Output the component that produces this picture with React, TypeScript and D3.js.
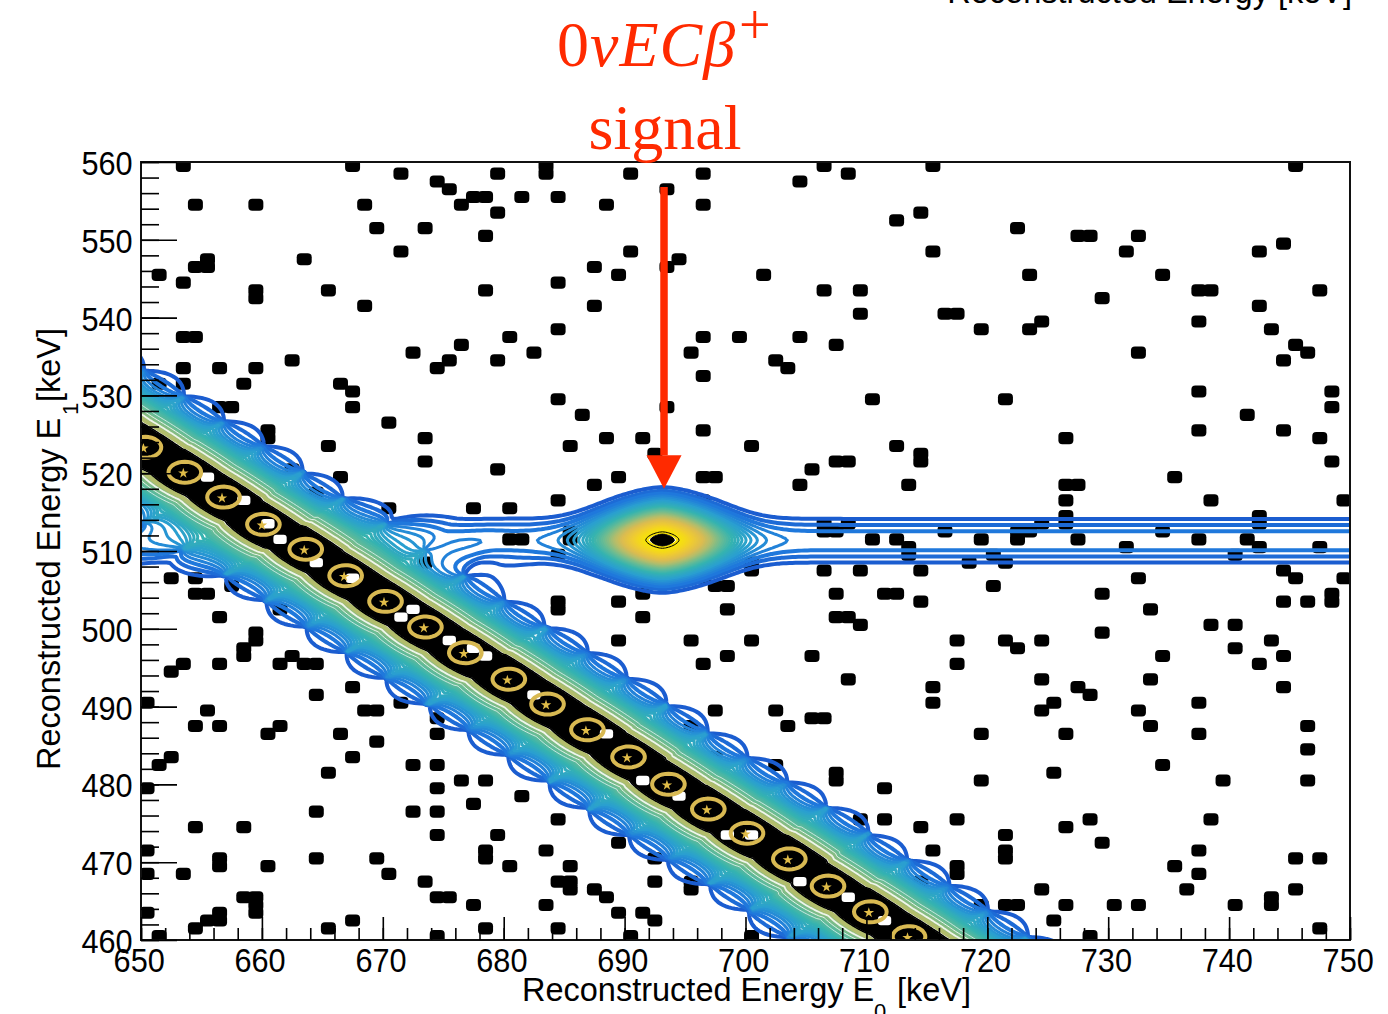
import * as d3 from "d3";
import {useEffect, useRef} from "react";

// axis ranges (keV)
const e0Range = [650, 750];
const e1Range = [460, 560];
const e0Major = [650, 660, 670, 680, 690, 700, 710, 720, 730, 740, 750];
const e1Major = [460, 470, 480, 490, 500, 510, 520, 530, 540, 550, 560];
const e0Minor = d3.range(650, 751, 2);
const e1Minor = d3.range(460, 561, 2);

// lower edges [E0, E1] of the 1 keV bins holding background counts
const bgBins: [number, number][] = [
  [653,559],[667,559],[683,559],[706,559],[715,559],[745,559],
  [671,558],[679,558],[683,558],[690,558],[696,558],[708,558],
  [674,557],[704,557],[675,556],[693,556],[677,555],[678,555],[681,555],[684,555],
  [654,554],[659,554],[668,554],[676,554],[688,554],[696,554],
  [679,553],[714,553],[712,552],[669,551],[673,551],[722,551],
  [678,550],[727,550],[728,550],[732,550],[744,549],
  [671,548],[690,548],[715,548],[731,548],[742,548],
  [655,547],[663,547],[694,547],[654,546],[655,546],[687,546],[693,546],
  [651,545],[689,545],[701,545],[723,545],[734,545],
  [653,544],[684,544],[659,543],[665,543],[678,543],[706,543],[709,543],[737,543],[738,543],[747,543],
  [659,542],[729,542],[668,541],[687,541],[742,541],[709,540],[716,540],[717,540],
  [724,539],[737,539],[684,538],[719,538],[723,538],[743,538],
  [653,537],[654,537],[680,537],[696,537],[699,537],[704,537],
  [676,536],[707,536],[745,536],[672,535],[682,535],[695,535],[732,535],[746,535],
  [662,534],[675,534],[679,534],[702,534],[744,534],
  [653,533],[656,533],[659,533],[674,533],[703,533],[696,532],
  [651,531],[653,531],[658,531],[666,531],[667,530],[737,530],[748,530],
  [684,529],[710,529],[721,529],[656,528],[657,528],[667,528],[693,528],[748,528],
  [686,527],[741,527],[670,526],[660,525],[696,525],[737,525],[744,525],
  [660,524],[673,524],[688,524],[691,524],[726,524],[747,524],
  [665,523],[685,523],[700,523],[712,523],[692,522],[714,522],
  [673,521],[707,521],[708,521],[714,521],[748,521],
  [662,520],[679,520],[705,520],[666,519],[689,519],[696,519],[697,519],[735,519],
  [687,518],[704,518],[713,518],[726,518],[727,518],
  [664,517],[684,516],[696,516],[726,516],[738,516],[749,516],
  [670,515],[677,515],[680,515],[726,514],[742,514],
  [706,513],[708,513],[724,513],[726,513],[742,513],
  [685,512],[706,512],[707,512],[716,512],[722,512],[723,512],[734,512],
  [680,511],[681,511],[685,511],[710,511],[712,511],[719,511],[722,511],[727,511],[737,511],[741,511],
  [713,510],[731,510],[742,510],[747,510],[684,509],[713,509],[720,509],[740,509],
  [673,508],[700,508],[718,508],[721,508],
  [700,507],[706,507],[709,507],[714,507],[744,507],
  [652,506],[654,506],[696,506],[732,506],[745,506],[749,506],
  [657,505],[697,505],[698,505],[720,505],
  [654,504],[655,504],[691,504],[707,504],[711,504],[712,504],[729,504],[748,504],
  [684,503],[689,503],[714,503],[744,503],[746,503],[748,503],
  [661,502],[684,502],[698,502],[733,502],[656,501],[691,501],[707,501],[708,501],
  [709,500],[738,500],[740,500],[659,499],[729,499],
  [659,498],[689,498],[695,498],[700,498],[717,498],[721,498],[724,498],[743,498],
  [658,497],[722,497],[740,497],[658,496],[662,496],[698,496],[705,496],[734,496],[744,496],
  [653,495],[656,495],[661,495],[663,495],[664,495],[696,495],[717,495],[742,495],
  [652,494],[708,493],[724,493],[733,493],
  [667,492],[715,492],[727,492],[744,492],[664,491],[728,491],
  [650,490],[671,490],[715,490],[725,490],[737,490],
  [655,489],[668,489],[669,489],[697,489],[702,489],[724,489],[732,489],
  [674,488],[705,488],[706,488],
  [654,487],[656,487],[661,487],[695,487],[703,487],[733,487],[746,487],
  [660,486],[666,486],[674,486],[719,486],[726,486],[737,486],
  [669,485],[746,484],[652,483],[667,483],[697,483],
  [651,482],[665,481],[672,482],[674,482],[702,482],[734,482],
  [707,481],[725,481],[676,480],[678,480],[707,480],[719,480],[739,480],[746,480],
  [650,479],[674,479],[711,479],[681,478],[677,477],
  [664,476],[672,476],[674,476],[684,475],[709,475],[711,475],[717,475],[728,475],[738,475],
  [654,474],[658,474],[714,474],[726,474],[674,473],[679,473],[721,473],
  [689,472],[729,472],[650,471],[678,471],[683,471],[715,471],[721,471],[737,471],
  [656,470],[664,470],[669,470],[678,470],[692,470],[721,470],[745,470],[747,470],
  [656,469],[660,469],[680,469],[685,469],[717,469],[735,469],
  [650,468],[653,468],[670,468],[717,468],[737,468],
  [673,467],[684,467],[685,467],[692,467],[695,467],[714,467],
  [685,466],[687,466],[695,466],[724,466],[736,466],[745,466],
  [658,465],[659,465],[674,465],[675,465],[688,465],[743,465],
  [659,464],[677,464],[683,464],[719,464],[721,464],[722,464],[726,464],[730,464],[732,464],[740,464],[743,464],
  [650,463],[656,463],[659,463],[689,463],[691,463],
  [655,462],[656,462],[667,462],[692,462],[725,462],
  [654,461],[665,461],[678,461],[684,461],[747,461],
  [651,460],[674,460],[690,460],[700,460],[728,460],
];

// empty bins showing as white holes inside the black core of the ridge
const emptyBins: [number, number][] = [
  [655,519],[658,516],[660,513],[661,511],[664,508],[667,506],[671,501],[672,502],[675,498],[677,497],
  [678,496],[682,491],[688,486],[691,480],[694,478],[698,473],[700,473],[704,467],[708,465],[711,462],
];

// centres of the Compton ridge peaks, read from the gold rings
const peakE0 = [640.3,643.6,646.9,650.2,653.5,656.7,660.0,663.5,666.8,670.1,673.4,676.7,680.3,683.5,686.8,690.2,693.5,696.8,700.0,703.5,706.7,710.2,713.4,716.7,720.0,723.3,726.6];
const peakE1 = [533.1,529.8,526.5,523.2,520.0,516.8,513.3,510.1,506.7,503.4,500.1,496.8,493.4,490.2,486.9,483.4,479.9,476.7,473.6,470.3,466.8,463.5,460.3,457.0,453.7,450.4,447.1];

// signal peak and the 511 keV annihilation line
const signalE0 = 693.0;
const signalE1 = 511.3;
const lineE1 = 511.2;

// arrow of the annotation (keV)
const arrowE0 = 693.26;
const arrowTop = 556.8;
const arrowBase = 522.3;
const arrowTip = 518.0;

// contour heights
const lineLevels = d3.range(2, 24);
const signalLevels = d3.range(24, 41);
const colorStops = [2, 4, 8, 13, 18, 23.5, 28, 34, 41];
const colorValues = ["#1b5dd0", "#1f78dc", "#2a9fd0", "#35b3b0", "#6cbc92", "#b2bd6c", "#dcbc50", "#f0cc30", "#f9e800"];

const RED = "#ff2a00";
const FONT = "'Liberation Sans', Arial, sans-serif";
const SERIF = "'Liberation Serif', 'Times New Roman', serif";

export default function App() {
    const ref = useRef<SVGSVGElement>(null);

    useEffect(() => {
        const svg = d3.select(ref.current);
        svg.selectAll("*").remove();

        const x = d3.scaleLinear().domain(e0Range).range([141, 1350]);
        const y = d3.scaleLinear().domain(e1Range).range([940, 162]);

        // grid for the contours, a bit wider than the frame so the closing edges get clipped
        const step = 0.25;
        const gridX0 = 644, gridY0 = 454;
        const nx = 448, ny = 448;
        const size = nx * ny;
        const full = new Float64Array(size);
        const signal = new Float64Array(size);
        const bandEdge = new Float64Array(size);
        const ringDist = new Float64Array(size);

        const peakH = 30, width2 = 21.8, cuspW = 6.93, halfGap = 2.335, bendZone = 2.5, spread = 1.55;
        for (let j = 0; j < ny; j++) {
            const e1 = gridY0 + j * step;
            for (let i = 0; i < nx; i++) {
                const e0 = gridX0 + i * step;

                // nearest ridge peak: w across the ridge, u along it
                let best = 0, bestU = Infinity;
                for (let k = 0; k < peakE0.length; k++) {
                    const u = Math.abs(e0 - peakE0[k] - (e1 - peakE1[k])) / Math.SQRT2;
                    if (u < bestU) { bestU = u; best = k; }
                }
                const dx0 = e0 - peakE0[best], dy0 = e1 - peakE1[best];
                const w = (dx0 + dy0) / Math.SQRT2;
                const absW = Math.abs(w);
                const q = Math.max(0, 1 - (bestU / halfGap) ** 2);

                // levels near the edge bow out between peaks and pinch together at the cusps
                let wEff;
                if (absW >= cuspW) {
                    wEff = cuspW + (absW - cuspW) / Math.max(q * spread, 0.03);
                } else {
                    const depth = Math.min(1, (cuspW - absW) / bendZone);
                    const gain = spread - (spread - 1) * depth;
                    wEff = cuspW - (cuspW - absW) / Math.max((q + (1 - q) * depth) * gain, 0.03);
                }
                const diag = peakH * Math.exp(-wEff * wEff / width2);

                const dx = e0 - signalE0, dy = e1 - signalE1, dl = e1 - lineE1;
                const rho = Math.pow(Math.pow(Math.abs(dx) / 4.69, 1.6) + Math.pow(Math.abs(dy) / 3.95, 1.6), 1.25);
                const blob = 38 * Math.exp(-rho);
                const flat = 4.7 * Math.exp(-dl * dl / 9.2);
                const fade = Math.max(0, 1 - diag / peakH);

                const idx = i + j * nx;
                signal[idx] = blob + flat;
                full[idx] = diag + flat * fade * fade + blob;
                bandEdge[idx] = -(absW - (w < 0 ? 0.25 : 0.05) * q);
                ringDist[idx] = -Math.hypot(dx0, dy0);
            }
        }

        const toPx = d3.geoTransform({
            point(px, py) {
                this.stream.point(x(gridX0 + px * step), y(gridY0 + py * step));
            },
        });
        const path = d3.geoPath(toPx);
        const contours = d3.contours().size([nx, ny]).thresholds([]);
        const iso = (field: Float64Array, level: number) => path(contours.contour(field as any, level));
        const color = d3.scaleLinear<string>().domain(colorStops).range(colorValues);

        svg.append("clipPath").attr("id", "frame").append("rect")
            .attr("x", x(650)).attr("y", y(560)).attr("width", x(750) - x(650)).attr("height", y(460) - y(560));

        const plot = svg.append("g").attr("clip-path", "url(#frame)");

        // background counts
        plot.append("g").selectAll("rect").data(bgBins).join("rect")
            .attr("x", d => x(d[0] - 0.12))
            .attr("y", d => y(d[1] + 1.28))
            .attr("width", x(651.24) - x(650))
            .attr("height", y(460) - y(461.56))
            .attr("rx", 4)
            .attr("fill", "#000");

        // colour contours, lowest first
        lineLevels.forEach(level => {
            plot.append("path")
                .attr("d", iso(full, level))
                .attr("fill", "none")
                .attr("stroke", color(level))
                .attr("stroke-width", level < 5 ? 4 : 3);
        });
        signalLevels.forEach(level => {
            plot.append("path")
                .attr("d", iso(signal, level))
                .attr("fill", "none")
                .attr("stroke", color(level))
                .attr("stroke-width", 3);
        });

        // pale hairlines, black core and olive edge of the ridge
        [[-3.6, 0.8], [-3.2, 1], [-2.78, 1.8]].forEach(([level, w]) => {
            plot.append("path").attr("d", iso(bandEdge, level))
                .attr("fill", "none").attr("stroke", "#fff").attr("stroke-width", w).attr("opacity", 0.85);
        });
        plot.append("path").attr("d", iso(bandEdge, -2.0)).attr("fill", "#000");
        plot.append("g").selectAll("rect").data(emptyBins).join("rect")
            .attr("x", d => x(d[0] - 0.05))
            .attr("y", d => y(d[1] + 1.1))
            .attr("width", x(651.1) - x(650))
            .attr("height", y(460) - y(461.2))
            .attr("rx", 3)
            .attr("fill", "#fff");
        plot.append("path").attr("d", iso(bandEdge, -2.05))
            .attr("fill", "none").attr("stroke", "#000").attr("stroke-width", 1.6);
        plot.append("path").attr("d", iso(bandEdge, -2.38))
            .attr("fill", "none").attr("stroke", "#b2bd6c").attr("stroke-width", 3.6);

        // gold rings around the peaks
        plot.append("path").attr("d", iso(ringDist, -1.35))
            .attr("fill", "none").attr("stroke", "#d8b952").attr("stroke-width", 4);
        plot.append("g").selectAll("path").data(peakE0).join("path")
            .attr("d", d3.symbol(d3.symbolStar, 34))
            .attr("transform", (d, i) => `translate(${x(d)},${y(peakE1[i])})`)
            .attr("fill", "#e0bc48");

        // signal core
        plot.append("path").attr("d", iso(signal, 41)).attr("fill", "#000").attr("stroke", "#000");
        plot.append("path").attr("d", iso(signal, 39.5))
            .attr("fill", "none").attr("stroke", "#000").attr("stroke-width", 1);

        // frame and axes
        svg.append("rect")
            .attr("x", x(650)).attr("y", y(560)).attr("width", x(750) - x(650)).attr("height", y(460) - y(560))
            .attr("fill", "none").attr("stroke", "#111").attr("stroke-width", 2);

        const styleAxis = (g: any) => {
            g.select(".domain").remove();
            g.selectAll("line").attr("stroke", "#000").attr("stroke-width", 1.6);
        };
        svg.append("g").attr("transform", `translate(0,${y(460)})`)
            .call(d3.axisBottom(x).tickValues(e0Minor).tickSize(-12).tickFormat(() => ""))
            .call(styleAxis);
        svg.append("g").attr("transform", `translate(${x(650)},0)`)
            .call(d3.axisLeft(y).tickValues(e1Minor).tickSize(-18).tickFormat(() => ""))
            .call(styleAxis);

        const xMajor = svg.append("g").attr("transform", `translate(0,${y(460)})`)
            .call(d3.axisBottom(x).tickValues(e0Major).tickSize(-23).tickFormat(d3.format("d")))
            .call(styleAxis);
        xMajor.selectAll("text").attr("font-family", FONT).attr("font-size", 33).attr("fill", "#000")
            .attr("x", -2.5).attr("y", 6).attr("dy", "0.8em").attr("transform", "scale(0.93,1)");
        const yMajor = svg.append("g").attr("transform", `translate(${x(650)},0)`)
            .call(d3.axisLeft(y).tickValues(e1Major).tickSize(-36).tickFormat(d3.format("d")))
            .call(styleAxis);
        yMajor.selectAll("text").attr("font-family", FONT).attr("font-size", 33).attr("fill", "#000")
            .attr("x", -9).attr("y", 2).attr("dy", "0.32em").attr("transform", "scale(0.93,1)");

        // axis titles
        const label = (text: string, px: number, py: number, size = 32.5, anchor = "start", rotate = false) =>
            svg.append("text").text(text)
                .attr("transform", `translate(${px},${py})${rotate ? " rotate(-90)" : ""}`)
                .attr("font-family", FONT).attr("font-size", size).attr("text-anchor", anchor).attr("fill", "#000");

        label("Reconstructed Energy E", 522, 1001);
        label("0", 874, 1019, 22);
        label("[keV]", 897, 1001);
        label("Reconstructed Energy E", 60, 770, 32.5, "start", true);
        label("1", 78, 415, 22, "start", true);
        label("[keV]", 60, 402, 32.5, "start", true);
        label("Reconstructed Energy [keV]", 1352, 3, 32.5, "end");

        // annotation
        const note = svg.append("text").attr("x", 557).attr("y", 66)
            .attr("font-family", SERIF).attr("font-size", 64).attr("fill", RED).attr("letter-spacing", 1);
        note.append("tspan").text("0");
        note.append("tspan").attr("font-style", "italic").text("νECβ");
        note.append("tspan").attr("font-size", 56).attr("dx", 3).attr("dy", -22).text("+");
        svg.append("text").attr("x", 665).attr("y", 149).attr("text-anchor", "middle")
            .attr("font-family", SERIF).attr("font-size", 64).attr("fill", RED).text("signal");

        svg.append("line")
            .attr("x1", x(arrowE0)).attr("x2", x(arrowE0)).attr("y1", y(arrowTop)).attr("y2", y(arrowBase))
            .attr("stroke", RED).attr("stroke-width", 7.5);
        const head = d3.line()([
            [x(arrowE0 - 1.45), y(arrowBase)],
            [x(arrowE0 + 1.45), y(arrowBase)],
            [x(arrowE0), y(arrowTip)],
        ]);
        svg.append("path").attr("d", head + "Z").attr("fill", RED);
    }, []);

    return <svg ref={ref} width={1388} height={1014} style={{position: "absolute", left: 0, top: 0, display: "block"}}></svg>;
}
